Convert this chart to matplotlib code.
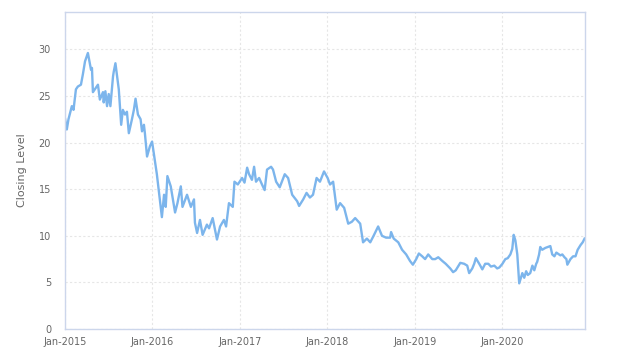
import matplotlib
matplotlib.use("Agg")
import matplotlib.pyplot as plt
import matplotlib.dates as mdates
import pandas as pd

dates = [
    "2015-01-02", "2015-01-09", "2015-01-16", "2015-01-30", "2015-02-06", "2015-02-16",
    "2015-02-24", "2015-03-09", "2015-03-17", "2015-03-26", "2015-04-07", "2015-04-20",
    "2015-04-24", "2015-04-28", "2015-05-11", "2015-05-19", "2015-05-27", "2015-06-09",
    "2015-06-12", "2015-06-19", "2015-06-26", "2015-07-03", "2015-07-10", "2015-07-21",
    "2015-07-24", "2015-07-31", "2015-08-06", "2015-08-14", "2015-08-24", "2015-08-31",
    "2015-09-09", "2015-09-17", "2015-09-25", "2015-10-08", "2015-10-16", "2015-10-23",
    "2015-11-02", "2015-11-13", "2015-11-19", "2015-11-27", "2015-12-01", "2015-12-10",
    "2015-12-22", "2015-12-31", "2016-01-08", "2016-01-20", "2016-01-29", "2016-02-10",
    "2016-02-19", "2016-02-26", "2016-03-04", "2016-03-18", "2016-04-05", "2016-04-15",
    "2016-04-29", "2016-05-06", "2016-05-25", "2016-06-10", "2016-06-23", "2016-06-27",
    "2016-07-06", "2016-07-18", "2016-07-29", "2016-08-16", "2016-08-25", "2016-09-09",
    "2016-09-27", "2016-10-10", "2016-10-26", "2016-11-04", "2016-11-16", "2016-12-02",
    "2016-12-09", "2016-12-23", "2017-01-10", "2017-01-20", "2017-01-31", "2017-02-08",
    "2017-02-20", "2017-03-01", "2017-03-09", "2017-03-22", "2017-04-03", "2017-04-14",
    "2017-04-24", "2017-05-11", "2017-05-19", "2017-06-01", "2017-06-16", "2017-07-07",
    "2017-07-21", "2017-08-07", "2017-08-28", "2017-09-05", "2017-09-22", "2017-10-06",
    "2017-10-20", "2017-11-02", "2017-11-17", "2017-12-01", "2017-12-18", "2018-01-02",
    "2018-01-12", "2018-01-25", "2018-02-09", "2018-02-23", "2018-03-12", "2018-03-29",
    "2018-04-13", "2018-04-27", "2018-05-18", "2018-05-30", "2018-06-15", "2018-06-29",
    "2018-07-13", "2018-08-01", "2018-08-09", "2018-08-17", "2018-09-03", "2018-09-20",
    "2018-09-24", "2018-10-05", "2018-10-24", "2018-11-09", "2018-11-26", "2018-12-12",
    "2018-12-24", "2019-01-07", "2019-01-18", "2019-02-01", "2019-02-13", "2019-02-26",
    "2019-03-15", "2019-03-27", "2019-04-09", "2019-04-26", "2019-05-10", "2019-05-29",
    "2019-06-10", "2019-06-21", "2019-07-10", "2019-07-26", "2019-08-08", "2019-08-16",
    "2019-08-29", "2019-09-06", "2019-09-13", "2019-09-27", "2019-10-10", "2019-10-22",
    "2019-11-04", "2019-11-15", "2019-11-29", "2019-12-11", "2019-12-20", "2020-01-02",
    "2020-01-14", "2020-01-24", "2020-02-04", "2020-02-12", "2020-02-18", "2020-02-25",
    "2020-03-04", "2020-03-12", "2020-03-25", "2020-04-02", "2020-04-10", "2020-04-17",
    "2020-04-27", "2020-05-06", "2020-05-14", "2020-05-22", "2020-05-26", "2020-06-03",
    "2020-06-08", "2020-06-16", "2020-06-29", "2020-07-10", "2020-07-20", "2020-07-28",
    "2020-08-06", "2020-08-14", "2020-08-31", "2020-09-08", "2020-09-17", "2020-09-25",
    "2020-09-29", "2020-10-12", "2020-10-23", "2020-11-02", "2020-11-11", "2020-11-23",
    "2020-12-02", "2020-12-10",
]

closing = [
    22.5, 21.4, 22.5, 23.9, 23.5, 25.7,
    26.0, 26.2, 27.3, 28.7, 29.6, 27.8,
    28.0, 25.4, 25.9, 26.2, 24.6, 25.4,
    24.3, 25.5, 23.9, 25.2, 23.9, 27.1,
    27.6, 28.5, 27.3, 25.7, 21.9, 23.5,
    23.0, 23.3, 21.0, 22.5, 23.5, 24.7,
    23.0, 22.5, 21.2, 21.9, 21.0, 18.5,
    19.6, 20.1, 18.7, 16.6, 14.6, 12.0,
    14.4, 13.1, 16.4, 15.3, 12.5, 13.5,
    15.3, 13.1, 14.4, 13.1, 13.9, 11.4,
    10.3, 11.7, 10.1, 11.2, 10.8, 11.9,
    9.6, 11.0, 11.7, 11.0, 13.5, 13.1,
    15.8, 15.5, 16.2, 15.7, 17.3, 16.6,
    16.0, 17.4, 15.8, 16.2, 15.5, 14.9,
    17.1, 17.4, 17.1, 15.8, 15.2, 16.6,
    16.2, 14.4, 13.7, 13.2, 13.9, 14.6,
    14.1, 14.4, 16.2, 15.8, 16.9, 16.2,
    15.5, 15.8, 12.8, 13.5, 13.0, 11.3,
    11.5, 11.9, 11.3, 9.3, 9.7, 9.3,
    10.0, 11.0, 10.5, 10.0, 9.8, 9.8,
    10.4, 9.7, 9.3, 8.5, 8.0, 7.3,
    6.9, 7.5, 8.1, 7.8, 7.5, 8.0,
    7.5, 7.5, 7.7, 7.3, 7.0, 6.5,
    6.1, 6.3, 7.1, 7.0, 6.8, 6.0,
    6.5, 7.0, 7.6, 7.0, 6.4, 7.0,
    7.0, 6.7, 6.8, 6.5, 6.6, 7.0,
    7.5, 7.6, 8.0, 8.6, 10.1, 9.5,
    8.0, 4.9, 6.0, 5.5, 6.2, 5.8,
    6.0, 6.8, 6.3, 7.0, 7.2, 8.0,
    8.8, 8.5, 8.7, 8.8, 8.9, 8.0,
    7.8, 8.2, 7.9, 8.0, 7.7, 7.5,
    6.9, 7.5, 7.8, 7.8, 8.5, 9.0,
    9.3, 9.7,
]

x = pd.to_datetime(dates)

fig = plt.figure(figsize=(6.24, 3.62), dpi=100)
ax = fig.add_axes([0.104, 0.091, 0.834, 0.876])

ax.plot(x, closing, color="#7cb5ec", linewidth=1.7)

ax.set_xlim(pd.Timestamp("2015-01-01"), pd.Timestamp("2020-12-13"))
ax.set_ylim(0, 34)
ax.set_yticks(range(0, 35, 5))

ax.xaxis.set_major_locator(mdates.YearLocator())
ax.xaxis.set_major_formatter(mdates.DateFormatter("Jan-%Y"))

ax.grid(True, color="#e6e6e6", linestyle=(0, (2, 2)), linewidth=0.8)
for s in ax.spines.values():
    s.set_color("#ccd6eb")
    s.set_linewidth(1)

ax.tick_params(axis="both", length=0, labelsize=7, labelcolor="#666666")
ax.tick_params(axis="x", pad=6)
ax.tick_params(axis="y", pad=10)
ax.set_ylabel("Closing Level", fontsize=8, color="#666666", labelpad=8)

fig.savefig("out.png", dpi=100)
